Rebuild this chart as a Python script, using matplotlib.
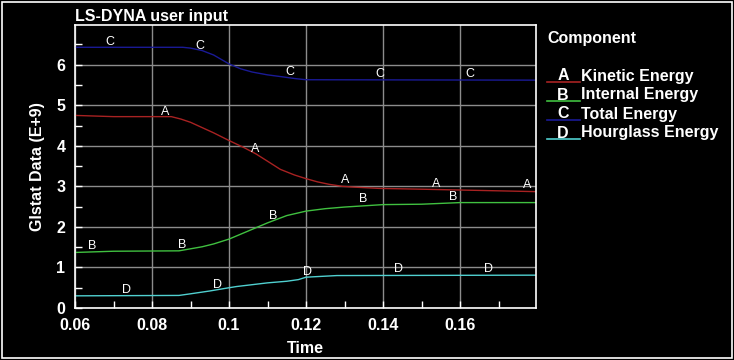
import numpy as np
import matplotlib
matplotlib.use('Agg')
import matplotlib.pyplot as plt
from matplotlib.lines import Line2D
from matplotlib.patches import Rectangle
from matplotlib.ticker import MultipleLocator

plt.rcParams['font.family'] = ['Liberation Sans', 'DejaVu Sans']

# ── Data (time, Glstat value in E+9) ───────────────────────────────────────
t_A = [0.060, 0.070, 0.085, 0.0875, 0.090, 0.093, 0.096, 0.100, 0.104, 0.107,
       0.110, 0.1133, 0.117, 0.120, 0.123, 0.126, 0.1295, 0.1327, 0.139, 0.150,
       0.160, 0.170, 0.1797]
v_A = [4.75, 4.72, 4.72, 4.66, 4.58, 4.45, 4.32, 4.13, 3.95, 3.80,
       3.62, 3.42, 3.28, 3.19, 3.11, 3.05, 3.00, 2.98, 2.95, 2.93,
       2.91, 2.89, 2.87]

t_B = [0.060, 0.070, 0.087, 0.090, 0.093, 0.096, 0.100, 0.105, 0.110, 0.115,
       0.120, 0.125, 0.130, 0.140, 0.150, 0.160, 0.1797]
v_B = [1.37, 1.40, 1.41, 1.46, 1.51, 1.58, 1.70, 1.90, 2.10, 2.28,
       2.39, 2.45, 2.49, 2.55, 2.56, 2.60, 2.60]

t_C = [0.060, 0.088, 0.090, 0.093, 0.096, 0.100, 0.103, 0.106, 0.110, 0.114,
       0.117, 0.120, 0.1797]
v_C = [6.43, 6.43, 6.41, 6.35, 6.24, 6.02, 5.90, 5.82, 5.75, 5.70,
       5.66, 5.63, 5.62]

t_D = [0.060, 0.087, 0.090, 0.095, 0.100, 0.102, 0.110, 0.115, 0.118, 0.120,
       0.128, 0.1797]
v_D = [0.30, 0.31, 0.35, 0.42, 0.50, 0.53, 0.62, 0.66, 0.70, 0.76,
       0.80, 0.81]

# letter markers along each curve
lab_t = {
    "A": [0.0834, 0.1068, 0.1301, 0.1538, 0.1774],
    "B": [0.0644, 0.0878, 0.1114, 0.1348, 0.1582],
    "C": [0.0691, 0.0925, 0.1158, 0.1392, 0.1626],
    "D": [0.0735, 0.0969, 0.1203, 0.1439, 0.1673],
}
lab_v = {
    "A": [4.84, 3.92, 3.15, 3.05, 3.03],
    "B": [1.54, 1.56, 2.26, 2.68, 2.73],
    "C": [6.55, 6.45, 5.83, 5.78, 5.78],
    "D": [0.45, 0.57, 0.89, 0.97, 0.97],
}

names  = {"A": "Kinetic Energy", "B": "Internal Energy",
          "C": "Total Energy", "D": "Hourglass Energy"}
series = {"A": (t_A, v_A), "B": (t_B, v_B), "C": (t_C, v_C), "D": (t_D, v_D)}
colors = {"A": "#a82222", "B": "#40c040", "C": "#1a1a96", "D": "#50d0d0"}

W, H = 734, 360
fig = plt.figure(figsize=(W / 100, H / 100), dpi=100, facecolor='black')
ax = fig.add_axes([75 / W, 1 - 308 / H, (536 - 75) / W, (308 - 25) / H])
ax.set_facecolor('black')

for k, (t, v) in series.items():
    ax.plot(t, v, color=colors[k], lw=1.0)
    for x, y in zip(lab_t[k], lab_v[k]):
        ax.text(x, y, k, color='white', fontsize=9, ha='center', va='center')

ax.set_xlim(0.06, 0.1797)
ax.set_ylim(0, 6.98)
ax.xaxis.set_minor_locator(MultipleLocator(0.01))
ax.yaxis.set_minor_locator(MultipleLocator(0.5))
ax.set_xticks([0.06, 0.08, 0.10, 0.12, 0.14, 0.16])
ax.set_xticklabels(["0.06", "0.08", "0.1", "0.12", "0.14", "0.16"])
ax.set_yticks([0, 1, 2, 3, 4, 5, 6])
ax.grid(True, which='major', color='#8c8c8c', lw=1.0)
ax.tick_params(which='both', direction='in', colors='white', length=5,
               width=1.0, labelsize=11.5, pad=7)
for lbl in ax.get_xticklabels() + ax.get_yticklabels():
    lbl.set_fontweight('bold')
for s in ax.spines.values():
    s.set_color('white')
    s.set_linewidth(1.2)

ax.set_xlabel("Time", color='white', fontsize=11.5, fontweight='bold', labelpad=6)
ax.set_ylabel("Glstat Data (E+9)", color='white', fontsize=11.5, fontweight='bold',
              labelpad=8)

fig.text(75 / W, 1 - 17 / H, "LS-DYNA user input", color='white', fontsize=11.5,
         fontweight='bold', va='center', ha='left')

# ── Legend drawn by hand ────────────────────────────────────────────────────
fig.text(547 / W, 1 - 38 / H, "Component", color='white', fontsize=11.5,
         fontweight='bold', va='center')
row_y = [76, 95, 114, 133]
for k, y in zip(["A", "B", "C", "D"], row_y):
    fig.add_artist(Line2D([547 / W, 580 / W], [1 - (y + 6) / H] * 2,
                          color=colors[k], lw=1.2, transform=fig.transFigure))
    fig.text(563 / W, 1 - y / H, k, color='white', fontsize=11.5,
             fontweight='bold', va='center', ha='center')
    fig.text(581 / W, 1 - y / H, names[k], color='white', fontsize=11.5,
             fontweight='bold', va='center', ha='left')

fig.add_artist(Rectangle((2 / W, 2 / H), (W - 4) / W, (H - 4) / H, fill=False,
                         edgecolor='white', lw=1.2, transform=fig.transFigure))

fig.savefig("out.png", dpi=100, facecolor='black')
